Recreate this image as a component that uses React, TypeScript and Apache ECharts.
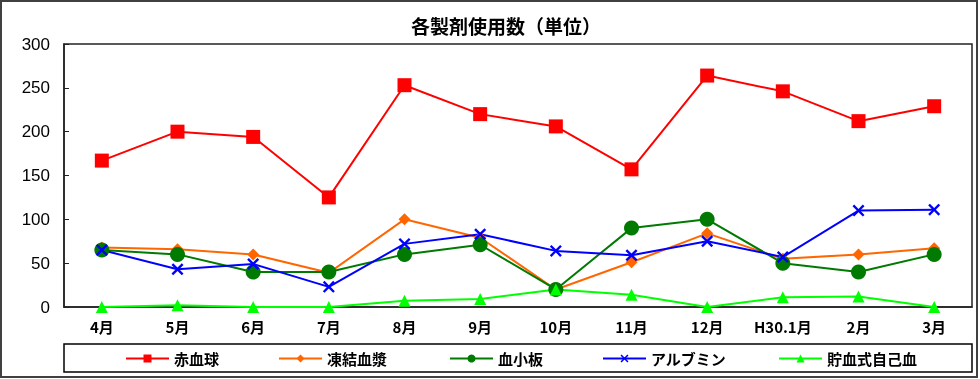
import React, { useEffect, useRef } from "react";
import * as echarts from "echarts";

const categories = ["4月", "5月", "6月", "7月", "8月", "9月", "10月", "11月", "12月", "H30.1月", "2月", "3月"];
const redCells = [167, 200, 194, 125, 253, 220, 206, 157, 264, 246, 212, 229];
const plasma = [68, 66, 60, 39, 100, 79, 20, 51, 84, 55, 60, 67];
const platelets = [65, 60, 40, 40, 60, 71, 20, 90, 100, 50, 40, 60];
const albumin = [65, 43, 49, 23, 72, 83, 64, 59, 75, 57, 110, 111];
const autologous = [0, 2, 0, 0, 7, 9, 20, 14, 0, 11, 12, 0];
const yTicks = { min: 0, max: 300, interval: 50 };

const seriesNames = ["赤血球", "凍結血漿", "血小板", "アルブミン", "貯血式自己血"];
const legendLefts = [125, 278, 449, 602, 778];

const XPATH = "path://M0,1.4L1.4,0L5,3.6L8.6,0L10,1.4L6.4,5L10,8.6L8.6,10L5,6.4L1.4,10L0,8.6L3.6,5Z";
const JP = '"Noto Sans CJK JP", "Noto Sans", sans-serif';

export default function App() {
  const ref = useRef<HTMLDivElement>(null);
  useEffect(() => {
    document.body.style.margin = "0";
    const chart = echarts.init(ref.current!, null, { renderer: "svg" });
    const mk = (name: string, data: number[], color: string, symbol: string, size: number) => ({
      name,
      type: "line",
      data,
      symbol,
      symbolSize: size,
      lineStyle: { color, width: 2 },
      itemStyle: { color, borderWidth: 0 },
      emphasis: { disabled: true },
    });
    chart.setOption({
      animation: false,
      title: {
        text: "各製剤使用数（単位）",
        left: 411,
        top: 16,
        padding: 0,
        textStyle: { fontSize: 19, fontWeight: "bold", color: "#000", fontFamily: JP },
      },
      graphic: [
        {
          type: "rect",
          shape: { x: 1, y: 1, width: 976, height: 376 },
          style: { fill: "none", stroke: "#404040", lineWidth: 2 },
          silent: true,
        },
        {
          type: "rect",
          shape: { x: 64, y: 344, width: 908, height: 28 },
          style: { fill: "none", stroke: "#000", lineWidth: 1.5 },
          silent: true,
        },
      ],
      legend: seriesNames.map((n, i) => ({
        data: [n],
        left: legendLefts[i],
        top: 351,
        padding: 0,
        itemWidth: 43,
        itemHeight: 10,
        textStyle: { fontSize: 15, fontWeight: "bold", color: "#000", fontFamily: JP },
        selectedMode: false,
      })),
      grid: {
        left: 64,
        top: 44,
        right: 8,
        bottom: 72,
        show: true,
        borderColor: "#222",
        borderWidth: 1.5,
        containLabel: false,
      },
      xAxis: {
        type: "category",
        data: categories,
        boundaryGap: true,
        axisLine: { lineStyle: { color: "#222", width: 1.5 } },
        axisTick: { inside: true, length: 5, lineStyle: { color: "#222" } },
        axisLabel: { fontSize: 15, fontWeight: "bold", color: "#000", fontFamily: JP, margin: 12 },
      },
      yAxis: {
        type: "value",
        min: yTicks.min,
        max: yTicks.max,
        interval: yTicks.interval,
        axisLine: { show: true, lineStyle: { color: "#222", width: 1.5 } },
        axisTick: { show: true, inside: true, length: 5, lineStyle: { color: "#222" } },
        splitLine: { show: false },
        axisLabel: { fontSize: 17, color: "#000", fontFamily: '"Liberation Sans", Arial, sans-serif', margin: 14 },
      },
      series: [
        mk(seriesNames[0], redCells, "#FF0000", "rect", 14),
        mk(seriesNames[1], plasma, "#FF6600", "diamond", 12),
        mk(seriesNames[2], platelets, "#007A00", "circle", 15),
        mk(seriesNames[3], albumin, "#0000FF", XPATH, 12),
        mk(seriesNames[4], autologous, "#00FF00", "triangle", 12),
      ],
    });
    return () => chart.dispose();
  }, []);
  return <div ref={ref} style={{ position: "fixed", left: 0, top: 0, width: 980, height: 379 }} />;
}
